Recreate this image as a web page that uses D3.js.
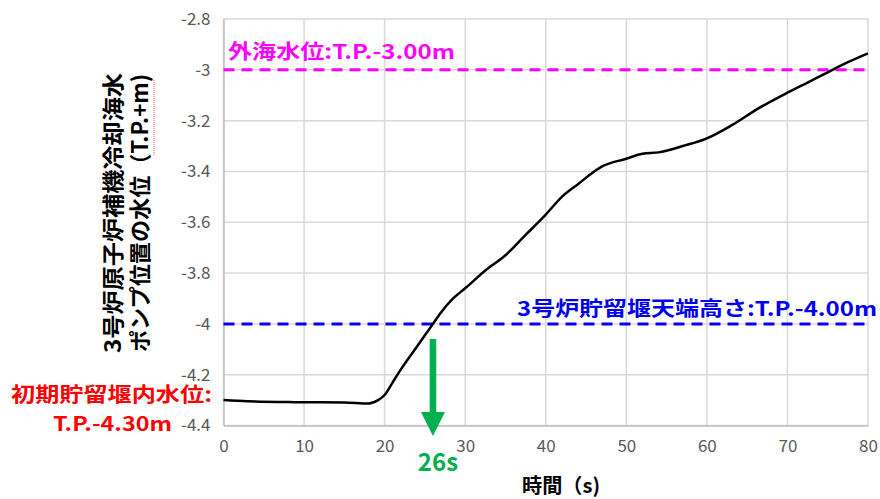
<!DOCTYPE html>
<html>
<head>
<meta charset="utf-8">
<script src="https://cdn.jsdelivr.net/npm/d3@7"></script>
<style>
  body { margin: 0; background: #fff; }
  svg { display: block; }
  .tick text { font-family: "Noto Sans CJK JP", "Noto Sans", sans-serif; }
</style>
</head>
<body>
<script>
svgWidth = 880
svgHeight = 499
margin = {"top": 19, "bottom": 73.5, "left": 223.5, "right": 12}
chartWidth = svgWidth - (margin.left + margin.right)
chartHeight = svgHeight - (margin.top + margin.bottom)

// water level at the No.3 reactor auxiliary cooling sea water pump (T.P. m)
var times = [0, 3, 9, 15, 18, 19.2, 20, 21, 22, 24, 26, 27, 28.5, 30, 32.5, 35, 37.5, 40,
             42, 44, 47, 50, 52, 54, 57, 60, 63, 66.5, 70, 72.5, 75, 77.5, 80]
var levels = [-4.30, -4.305, -4.308, -4.309, -4.313, -4.30, -4.28, -4.23, -4.18, -4.09, -4.00,
              -3.955, -3.90, -3.86, -3.79, -3.73, -3.65, -3.57, -3.50, -3.45, -3.38, -3.35,
              -3.33, -3.325, -3.30, -3.27, -3.22, -3.15, -3.09, -3.05, -3.01, -2.97, -2.935]

var xTicks = [0, 10, 20, 30, 40, 50, 60, 70, 80]
var yTicks = [-2.8, -3, -3.2, -3.4, -3.6, -3.8, -4, -4.2, -4.4]
var yTickLabels = ["-2.8", "-3", "-3.2", "-3.4", "-3.6", "-3.8", "-4", "-4.2", "-4.4"]

var refLevels = [-3.0, -4.0]
var refLabels = ["外海水位:T.P.-3.00m", "3号炉貯留堰天端高さ:T.P.-4.00m"]
var arrowTime = [26]
var arrowLabel = ["26s"]

var data = times.map(function(t, i) { return {t: t, v: levels[i]}; })

xScale = d3.scaleLinear()
            .domain([0, 80])
            .range([margin.left, margin.left + chartWidth])

yScale = d3.scaleLinear()
            .domain([-4.4, -2.8])
            .range([margin.top + chartHeight, margin.top])

var svg = d3.select("body").append("svg")
          .attr("width", svgWidth)
          .attr("height", svgHeight)

// gridlines
svg.append("g")
    .selectAll("line")
    .data(yTicks)
    .enter().append("line")
      .attr("x1", xScale(0)).attr("x2", xScale(80))
      .attr("y1", function(d) { return yScale(d); })
      .attr("y2", function(d) { return yScale(d); })
      .attr("stroke", "#d9d9d9")
      .attr("stroke-width", 1.5)

svg.append("g")
    .selectAll("line")
    .data(xTicks)
    .enter().append("line")
      .attr("x1", function(d) { return xScale(d); })
      .attr("x2", function(d) { return xScale(d); })
      .attr("y1", yScale(-4.4)).attr("y2", yScale(-2.8))
      .attr("stroke", "#d9d9d9")
      .attr("stroke-width", 1.5)

// axes
yAxis = d3.axisLeft().scale(yScale)
            .tickValues(yTicks)
            .tickFormat(function(d, i) { return yTickLabels[i]; })
            .tickSize(0)
            .tickPadding(13)

xAxis = d3.axisBottom().scale(xScale)
            .tickValues(xTicks)
            .tickFormat(d3.format("d"))
            .tickSize(0)

var gy = svg.append("g")
    .attr("transform", "translate(" + margin.left + ", 0)")
    .call(yAxis)
gy.select(".domain").attr("stroke", "#bfbfbf").attr("stroke-width", 1.5)
gy.selectAll("text").attr("font-size", 17).attr("fill", "#595959")

var gx = svg.append("g")
    .attr("transform", "translate(0, " + yScale(-4.4) + ")")
    .call(xAxis)
gx.select(".domain").attr("stroke", "#bfbfbf").attr("stroke-width", 1.5)
gx.selectAll("text").attr("font-size", 17).attr("fill", "#595959")
    .attr("y", 14)

// reference lines
var refColors = ["#ff00ff", "#0000ee"]
svg.append("g")
    .selectAll("line")
    .data(refLevels)
    .enter().append("line")
      .attr("x1", xScale(0)).attr("x2", xScale(80))
      .attr("y1", function(d) { return yScale(d); })
      .attr("y2", function(d) { return yScale(d); })
      .attr("stroke", function(d, i) { return refColors[i]; })
      .attr("stroke-width", 3)
      .attr("stroke-dasharray", "11,7")

// level curve
var line = d3.line()
    .x(function(d) { return xScale(d.t); })
    .y(function(d) { return yScale(d.v); })
    .curve(d3.curveMonotoneX)

svg.append("path")
    .datum(data)
    .attr("d", line)
    .attr("fill", "none")
    .attr("stroke", "#000")
    .attr("stroke-width", 2.5)

var jp = '"Noto Sans CJK JP", sans-serif'

// reference labels
svg.append("text")
    .attr("x", 228).attr("y", 59)
    .attr("font-family", jp).attr("font-weight", "bold").attr("font-size", 20)
    .attr("fill", refColors[0])
    .attr("textLength", 227).attr("lengthAdjust", "spacingAndGlyphs")
    .text(refLabels[0])

svg.append("text")
    .attr("x", 517).attr("y", 316)
    .attr("font-family", jp).attr("font-weight", "bold").attr("font-size", 20)
    .attr("fill", refColors[1])
    .attr("textLength", 360).attr("lengthAdjust", "spacingAndGlyphs")
    .text(refLabels[1])

// initial level label
svg.append("text")
    .attr("x", 11).attr("y", 402)
    .attr("font-family", jp).attr("font-weight", "bold").attr("font-size", 20)
    .attr("fill", "#ff0000")
    .attr("textLength", 201).attr("lengthAdjust", "spacingAndGlyphs")
    .text("初期貯留堰内水位:")

svg.append("text")
    .attr("x", 53).attr("y", 431)
    .attr("font-family", jp).attr("font-weight", "bold").attr("font-size", 20)
    .attr("fill", "#ff0000")
    .attr("textLength", 119).attr("lengthAdjust", "spacingAndGlyphs")
    .text("T.P.-4.30m")

// arrow at 26s
var green = "#00b050"
var ax = xScale(arrowTime[0])
svg.append("rect")
    .attr("x", ax - 3.3).attr("y", 339)
    .attr("width", 6.6).attr("height", 76)
    .attr("fill", green)
svg.append("path")
    .attr("d", "M" + (ax - 12) + ",412 L" + (ax + 12) + ",412 L" + ax + ",436 Z")
    .attr("fill", green)
svg.append("text")
    .attr("x", ax + 5).attr("y", 471)
    .attr("text-anchor", "middle")
    .attr("font-family", jp).attr("font-weight", "bold").attr("font-size", 24)
    .attr("fill", green)
    .text(arrowLabel[0])

// axis titles
svg.append("text")
    .attr("x", 522).attr("y", 493)
    .attr("font-family", jp).attr("font-weight", "bold").attr("font-size", 20)
    .attr("fill", "#000")
    .attr("textLength", 78).attr("lengthAdjust", "spacingAndGlyphs")
    .text("時間（s)")

var yTitle = svg.append("g")
    .attr("transform", "translate(0, 213) rotate(-90)")

yTitle.append("text")
    .attr("x", 0).attr("y", 121)
    .attr("text-anchor", "middle")
    .attr("font-family", jp).attr("font-weight", "bold").attr("font-size", 22)
    .attr("fill", "#000")
    .attr("textLength", 280).attr("lengthAdjust", "spacingAndGlyphs")
    .text("3号炉原子炉補機冷却海水")

yTitle.append("text")
    .attr("x", 0).attr("y", 148)
    .attr("text-anchor", "middle")
    .attr("font-family", jp).attr("font-weight", "bold").attr("font-size", 22)
    .attr("fill", "#000")
    .attr("textLength", 278).attr("lengthAdjust", "spacingAndGlyphs")
    .text("ポンプ位置の水位（T.P.+m)")

// spell-check squiggle under (T.P.+m)
yTitle.append("line")
    .attr("x1", 213 - 155).attr("x2", 213 - 80)
    .attr("y1", 154).attr("y2", 154)
    .attr("stroke", "#ff6060")
    .attr("stroke-width", 1)
    .attr("stroke-dasharray", "1,1")
</script>
</body>
</html>
